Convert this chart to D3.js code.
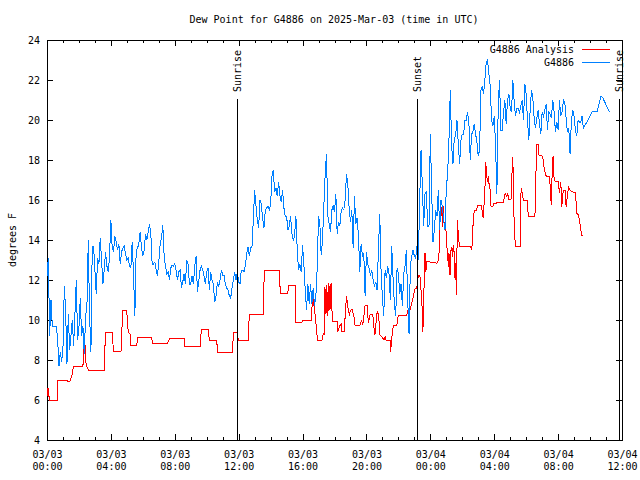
<!DOCTYPE html>
<html><head><meta charset="utf-8">
<script src="https://cdn.jsdelivr.net/npm/d3@7"></script>
<style>
body{margin:0;background:#fff}
svg text{font-family:"DejaVu Sans Mono",monospace;font-size:10px;fill:#000}
</style></head><body>
<svg id="chart" width="640" height="480"></svg>
<script>
// ---------- data ----------
const title = "Dew Point for G4886 on 2025-Mar-03 (time in UTC)";
const yLabel = "degrees F";
const seriesNames = ["G4886 Analysis", "G4886"];
const seriesColors = ["#ff0000", "#0080ff"];
const yTicks = [4, 6, 8, 10, 12, 14, 16, 18, 20, 22, 24];
const xStartUTC = "2025-03-03T00:00:00Z";
const xSpanHours = 36;
const xMajorHours = 4;
const eventNames = ["Sunrise", "Sunset", "Sunrise"];
const eventMinutes = [712, 1391, 2150];

// analysis series (minutes after 03/03 00:00 UTC, deg F)
const redMinutes = [0,4,9,38,39,74,77,86,90,96,99,135,139,143,147,156,216,219,246,249,278,280,284,299,302,305,312,314,337,341,393,397,452,462,515,518,575,580,605,610,638,640,697,700,714,719,756,760,813,816,872,875,879,904,909,932,935,957,960,994,997,1007,1016,1033,1038,1043,1044,1048,1051,1055,1059,1063,1067,1072,1090,1093,1098,1105,1108,1116,1120,1123,1126,1128,1136,1141,1146,1153,1157,1176,1182,1186,1191,1195,1203,1207,1214,1224,1226,1232,1239,1242,1246,1251,1257,1266,1270,1274,1289,1291,1295,1301,1314,1320,1351,1357,1364,1370,1376,1383,1389,1395,1401,1408,1412,1416,1420,1423,1427,1458,1464,1470,1473,1476,1480,1483,1487,1489,1492,1495,1499,1503,1508,1510,1514,1517,1520,1523,1526,1529,1533,1536,1539,1541,1545,1549,1589,1596,1599,1605,1614,1618,1633,1635,1639,1642,1646,1648,1652,1656,1658,1662,1664,1668,1675,1677,1693,1714,1721,1727,1731,1736,1743,1746,1750,1752,1755,1758,1761,1777,1781,1786,1789,1804,1808,1833,1836,1840,1846,1848,1859,1865,1868,1875,1887,1892,1894,1896,1898,1901,1904,1909,1921,1925,1930,1934,1937,1941,1946,1950,1955,1959,1965,1971,1984,1987,1990,1996,2000,2005,2009,2015];
const redValues = [6.2,6.6,6.0,6.0,7.0,7.0,6.95,6.95,7.1,7.3,7.7,7.7,8.75,8.75,7.75,7.5,7.5,9.4,9.4,8.45,8.45,8.97,10.5,10.5,10.0,9.4,9.3,8.75,8.75,9.13,9.13,8.83,8.83,9.1,9.1,8.7,8.7,9.53,9.53,8.97,8.97,8.38,8.38,9.37,9.37,9.0,9.0,10.3,10.3,12.47,12.47,11.7,11.33,11.33,11.73,11.73,9.87,9.87,9.97,9.97,11.3,10.3,9.0,9.0,9.35,9.3,11.67,10.3,11.75,10.2,11.83,10.5,11.83,9.92,9.92,9.42,9.67,9.8,9.42,9.42,10.17,10.83,11.2,10.75,10.28,10.5,10.53,10.17,9.75,9.75,9.97,9.75,10.25,10.75,10.75,9.83,10.3,10.3,9.83,9.25,10.33,10.42,10.17,9.25,9.17,9.0,9.17,8.97,8.97,8.42,9.08,9.75,9.75,10.25,10.25,10.53,10.53,10.83,11.17,11.58,11.58,12.25,12.2,11.0,9.42,11.5,13.33,12.4,12.92,12.87,12.83,12.97,13.42,15.2,15.17,15.67,14.67,15.7,14.67,14.92,14.42,13.5,12.67,13.33,12.25,13.42,13.67,13.17,13.75,13.42,12.0,12.83,11.25,15.0,14.33,13.7,13.67,13.53,14.5,15.5,15.5,15.75,15.75,15.33,15.08,15.83,16.83,17.92,17.17,16.92,17.2,16.58,16.58,15.67,15.67,15.8,15.87,15.87,16.33,16.17,16.3,16.0,16.03,17.13,18.17,16.5,14.75,14.0,13.67,13.67,16.58,16.33,16.0,16.0,15.2,15.2,17.0,18.8,18.8,18.25,18.2,18.0,17.5,17.2,17.2,16.4,15.75,16.5,17.58,18.2,17.2,16.92,16.92,16.33,16.92,15.67,16.25,16.5,16.5,15.67,16.25,16.63,16.5,16.42,16.37,16.0,15.33,15.25,15.0,14.53,14.25,14.25];

// station observations: regular 5-minute reports from 03/03 00:00 UTC, then sparse tail
const obsIntervalMinutes = 5;
const obsValues = [
12.2,13.1,9.2,11.0,9.7,9.7,9.7,9.7,9.0,7.7,
8.4,7.9,8.6,11.7,10.5,7.8,10.3,8.5,9.2,10.0,
8.7,10.3,12.0,9.0,9.6,11.1,9.2,9.7,8.3,10.2,
10.7,14.0,10.2,8.4,13.7,13.7,12.5,11.3,13.1,12.8,
14.1,13.0,11.8,12.5,13.4,12.7,12.4,13.2,15.0,13.6,
13.4,14.2,13.9,13.5,13.8,12.8,13.4,13.6,13.7,13.3,
13.0,13.1,12.7,12.6,13.9,12.3,10.2,13.5,13.6,13.8,
14.4,13.6,13.2,13.5,14.3,14.0,14.4,14.8,14.3,12.8,
12.8,12.9,12.5,12.2,12.9,13.8,14.1,14.75,13.2,12.7,
12.3,12.4,12.0,12.6,12.75,12.7,12.8,12.5,12.0,12.4,
12.5,11.6,11.9,12.3,11.8,13.0,12.8,11.8,11.8,12.2,
11.8,12.7,13.2,11.4,11.9,12.5,12.7,12.5,12.2,11.8,
12.4,12.6,11.5,12.4,12.0,11.8,10.9,11.2,11.9,11.7,
12.0,12.5,12.25,12.25,11.8,11.6,11.5,11.2,11.1,11.6,
12.0,12.4,12.0,12.4,11.9,11.8,12.5,12.5,12.4,12.7,
13.3,13.67,13.2,13.6,13.67,15.0,16.5,15.7,15.0,14.6,
16.0,15.8,15.1,14.6,15.5,15.6,15.7,15.5,15.75,17.2,
17.5,16.4,16.6,16.2,16.9,16.2,15.9,16.5,15.6,15.2,
15.2,14.5,14.7,15.2,14.3,14.0,14.2,15.2,13.5,12.5,
12.8,12.4,13.75,12.8,11.5,10.5,11.8,10.8,11.8,10.8,
11.6,10.7,11.2,12.6,15.2,14.8,13.25,14.0,15.7,17.3,
18.3,15.2,14.8,14.4,15.5,15.7,15.4,16.3,14.3,14.9,
14.7,15.4,15.6,15.5,16.0,17.3,16.8,15.6,14.9,15.5,
13.6,16.2,14.8,15.1,14.2,12.4,13.8,13.2,13.3,11.2,
13.4,12.8,12.6,12.2,12.5,12.0,11.7,11.9,11.5,13.5,
15.3,12.4,11.1,10.2,12.5,12.1,12.7,12.3,11.0,13.7,
12.1,10.8,10.2,12.6,12.3,11.3,11.8,10.7,12.3,12.7,
13.5,11.0,9.3,12.7,13.2,13.5,13.2,13.1,13.7,13.0,
16.0,18.5,16.7,14.7,16.3,16.4,14.7,14.7,19.3,16.5,
13.9,14.5,15.5,15.2,16.5,14.5,16.0,15.7,15.0,14.5,
16.6,17.3,19.0,21.5,18.7,17.8,19.1,19.2,20.0,18.8,
17.8,19.0,19.3,19.3,20.0,20.0,20.4,19.8,18.0,19.3,
19.4,19.8,19.3,18.9,18.2,18.5,21.5,21.7,21.3,22.0,
22.9,23.0,22.3,21.7,20.0,19.7,20.2,18.8,16.3,20.7,
22.0,19.5,19.5,20.4,21.0,19.8,21.0,21.3,20.6,20.4,
22.0,20.9,20.2,20.6,20.6,20.4,20.7,21.0,20.0,21.8,
21.3,20.0,19.0,20.5,21.5,21.1,20.1,19.6,20.1,20.5,
19.8,19.3,20.4,20.2,20.5,20.8,19.5,20.4,20.3,20.1,
21.0,20.4,19.4,19.9,19.5,21.0,20.2,20.4,21.0,20.9,
20.1,19.4,19.6,18.3,20.0,20.5,20.2,19.5,19.2,20.0,
19.9,19.9,20.2,19.6
];
const obsTailMinutes = [2028, 2043, 2050, 2067, 2074, 2081, 2088, 2113];
const obsTailValues = [19.9, 20.3, 20.45, 20.45, 20.8, 21.2, 21.1, 20.4];

// ---------- chart ----------
const W = 640, H = 480;
const M = {left: 47, right: 622, top: 40, bottom: 440};
const svg = d3.select("#chart");
const t0 = new Date(xStartUTC);
const t1 = d3.utcHour.offset(t0, xSpanHours);
const minToDate = m => new Date(t0.getTime() + m * 60000);

const x = d3.scaleUtc().domain([t0, t1]).range([M.left, M.right]);
const y = d3.scaleLinear().domain([d3.min(yTicks), d3.max(yTicks)]).range([M.bottom, M.top]);

const redData = redMinutes.map((m, i) => ({t: minToDate(m), v: redValues[i]}));
const blueData = obsValues.map((v, i) => ({t: minToDate(i * obsIntervalMinutes), v}))
  .concat(obsTailMinutes.map((m, i) => ({t: minToDate(m), v: obsTailValues[i]})));

const majorTicks = d3.utcHour.every(xMajorHours).range(t0, d3.utcHour.offset(t1, 1));
const minorTicks = d3.utcHour.every(1).range(t0, d3.utcHour.offset(t1, 1)).filter(d => d.getUTCHours() % xMajorHours !== 0);

svg.append("defs").append("clipPath").attr("id", "clip")
  .append("rect").attr("x", M.left).attr("y", M.top)
  .attr("width", M.right - M.left).attr("height", M.bottom - M.top);

function styleAxis(g) {
  g.select(".domain").remove();
  g.selectAll("line").attr("stroke", "#000").attr("shape-rendering", "crispEdges");
}

// bottom axis (major, labelled)
const fDate = d3.utcFormat("%m/%d"), fTime = d3.utcFormat("%H:%M");
const gB = svg.append("g").attr("transform", `translate(0,${M.bottom})`)
  .call(d3.axisBottom(x).tickValues(majorTicks).tickSize(-6).tickSizeOuter(0).tickPadding(9).tickFormat(""))
  .call(styleAxis);
gB.selectAll(".tick text").each(function(d) {
  const t = d3.select(this).attr("dy", null).attr("y", 0);
  t.append("tspan").attr("x", 0).attr("y", 18).text(fDate(d));
  t.append("tspan").attr("x", 0).attr("y", 30).text(fTime(d));
});
svg.append("g").attr("transform", `translate(0,${M.bottom})`)
  .call(d3.axisBottom(x).tickValues(minorTicks).tickSize(-3).tickSizeOuter(0).tickFormat(""))
  .call(styleAxis);
// top mirror
svg.append("g").attr("transform", `translate(0,${M.top})`)
  .call(d3.axisTop(x).tickValues(majorTicks).tickSize(-6).tickSizeOuter(0).tickFormat(""))
  .call(styleAxis);
svg.append("g").attr("transform", `translate(0,${M.top})`)
  .call(d3.axisTop(x).tickValues(minorTicks).tickSize(-3).tickSizeOuter(0).tickFormat(""))
  .call(styleAxis);
// left / right
svg.append("g").attr("transform", `translate(${M.left},0)`)
  .call(d3.axisLeft(y).tickValues(yTicks).tickSize(-6).tickSizeOuter(0).tickPadding(7).tickFormat(d3.format("d")))
  .call(styleAxis);
svg.append("g").attr("transform", `translate(${M.right},0)`)
  .call(d3.axisRight(y).tickValues(yTicks).tickSize(-6).tickSizeOuter(0).tickFormat(""))
  .call(styleAxis);
svg.selectAll(".tick text").attr("font-family", null).attr("font-size", null).attr("fill", "#000");

// frame
svg.append("rect").attr("x", M.left).attr("y", M.top)
  .attr("width", M.right - M.left).attr("height", M.bottom - M.top)
  .attr("fill", "none").attr("stroke", "#000").attr("shape-rendering", "crispEdges");

// data lines
const line = d3.line().x(d => x(d.t)).y(d => y(d.v));
const plot = svg.append("g").attr("clip-path", "url(#clip)");
plot.append("path").datum(redData).attr("d", line).attr("fill", "none")
  .attr("stroke", seriesColors[0]).attr("stroke-width", 1).attr("shape-rendering", "crispEdges");
plot.append("path").datum(blueData).attr("d", line).attr("fill", "none")
  .attr("stroke", seriesColors[1]).attr("stroke-width", 1).attr("shape-rendering", "crispEdges");

// sunrise / sunset markers
eventMinutes.forEach((m, i) => {
  const ex = Math.round(x(minToDate(m))) + 0.5;
  svg.append("line").attr("x1", ex).attr("x2", ex).attr("y1", M.bottom).attr("y2", 99)
    .attr("stroke", "#000").attr("shape-rendering", "crispEdges");
  svg.append("text").attr("transform", `translate(${ex + 3.5},92) rotate(-90)`)
    .attr("text-anchor", "start").text(eventNames[i]);
});

// legend
seriesNames.forEach((name, i) => {
  const ly = 49 + i * 13;
  svg.append("text").attr("x", 574).attr("y", ly).attr("dy", "0.35em")
    .attr("text-anchor", "end").text(name);
  svg.append("line").attr("x1", 582).attr("x2", 610).attr("y1", ly + 0.5).attr("y2", ly + 0.5)
    .attr("stroke", seriesColors[i]).attr("shape-rendering", "crispEdges");
});

// titles
svg.append("text").attr("x", 334).attr("y", 19).attr("dy", "0.35em")
  .attr("text-anchor", "middle").text(title);
svg.append("text").attr("transform", "translate(12,240) rotate(-90)")
  .attr("dy", "0.35em").attr("text-anchor", "middle").text(yLabel);
</script>
</body></html>
